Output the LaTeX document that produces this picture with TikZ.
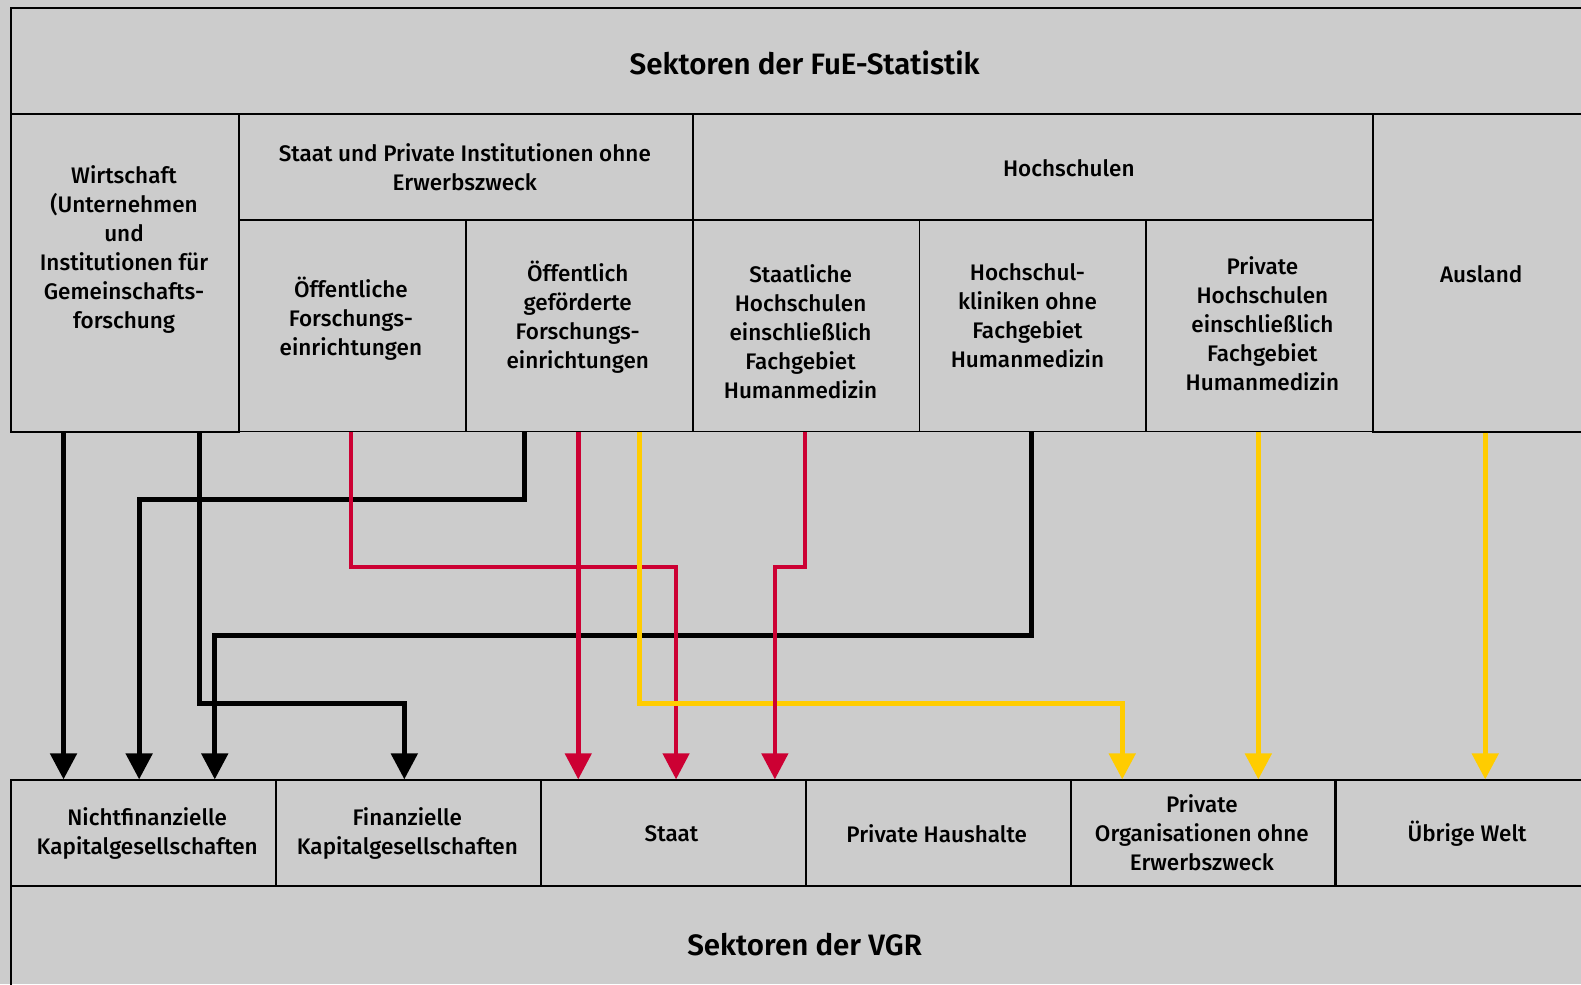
\documentclass[tikz,border=0pt]{standalone}
\usepackage{fontspec}
\setmainfont{Fira Sans}[UprightFont={* Medium},BoldFont={* SemiBold}]
\usetikzlibrary{arrows.meta}
\definecolor{bg}{HTML}{CCCCCC}
\definecolor{rd}{HTML}{CC0033}
\definecolor{yl}{HTML}{FFCC00}
\begin{document}
\begin{tikzpicture}[x=1.0083pt,y=-1.0083pt,
  box/.style={draw=black,line width=1.7pt,rectangle,inner sep=0pt,anchor=north west},
  lbl/.style={inner sep=0pt,font=\fontsize{22.5}{29}\selectfont,align=center},
  big/.style={inner sep=0pt,font=\fontsize{29.5}{34}\selectfont\bfseries},
  conn/.style={line join=miter,-{Triangle[length=26pt,width=26pt]}},
  blk/.style={conn,draw=black,line width=5pt},
  red/.style={conn,draw=rd,line width=4.5pt},
  yel/.style={conn,draw=yl,line width=5pt}]
\fill[bg] (0,0) rectangle (1568,976);
\useasboundingbox (0,0) rectangle (1568,976);
% top boxes
\node[box,minimum width=1590pt,minimum height=106pt] (top) at (10,7) {};
\node[box,minimum width=228pt,minimum height=318pt] (wirt) at (10,112) {};
\node[box,minimum width=454pt,minimum height=106pt] (stH) at (236,112) {};
\node[box,minimum width=681pt,minimum height=106pt] (hsH) at (686,112) {};
\node[box,minimum width=250pt,minimum height=318pt] (ausl) at (1361,112) {};
\node[box,minimum width=227pt,minimum height=212pt] (oef) at (236,217) {};
\node[box,minimum width=227pt,minimum height=212pt] (oefg) at (461,217) {};
\node[box,minimum width=227pt,minimum height=212pt] (sth) at (686,217) {};
\node[box,minimum width=227pt,minimum height=212pt] (hkl) at (911,217) {};
\node[box,minimum width=227pt,minimum height=212pt] (ph) at (1136,217) {};
% bottom boxes
\node[box,minimum width=265pt,minimum height=106pt] (nkg) at (10,773) {};
\node[box,minimum width=265pt,minimum height=106pt] (fkg) at (273,773) {};
\node[box,minimum width=265pt,minimum height=106pt] (staat) at (536,773) {};
\node[box,minimum width=265pt,minimum height=106pt] (phh) at (798,773) {};
\node[box,minimum width=265pt,minimum height=106pt] (poe) at (1061,773) {};
\node[box,minimum width=290pt,minimum height=106pt] (uw) at (1323,773) {};
\node[box,minimum width=1590pt,minimum height=130pt] (vgr) at (10,878) {};
% texts
\node[big] (topT) at (798,62) {Sektoren der FuE-Statistik};
\node[lbl] (wirtT) at (123,247) {Wirtschaft\\(Unternehmen\\und\\Institutionen für\\Gemeinschafts-\\forschung};
\node[lbl] (stHT) at (461,166) {Staat und Private Institutionen ohne\\Erwerbszweck};
\node[lbl] (hsT) at (1060,167) {Hochschulen};
\node[lbl] (auslT) at (1469,272) {Ausland};
\node[lbl] (oefT) at (348,316) {Öffentliche\\Forschungs-\\einrichtungen};
\node[lbl] (oefgT) at (573,315) {Öffentlich\\geförderte\\Forschungs-\\einrichtungen};
\node[lbl] (sthT) at (794,328.5) {Staatliche\\Hochschulen\\einschließlich\\Fachgebiet\\Humanmedizin};
\node[lbl] (hklT) at (1019,313) {Hochschul-\\kliniken ohne\\Fachgebiet\\Humanmedizin};
\node[lbl] (phT) at (1252,321) {Private\\Hochschulen\\einschließlich\\Fachgebiet\\Humanmedizin};
\node[lbl] (nkgT) at (146,826.5) {Nichtfinanzielle\\Kapitalgesellschaften};
\node[lbl] (fkgT) at (404,826.5) {Finanzielle\\Kapitalgesellschaften};
\node[lbl] (staatT) at (666,827) {Staat};
\node[lbl] (phhT) at (929,827) {Private Haushalte};
\node[lbl] (poeT) at (1192,826) {Private\\Organisationen ohne\\Erwerbszweck};
\node[lbl] (uwT) at (1455,827) {Übrige Welt};
\node[big] (vgrT) at (798,937) {Sektoren der VGR};
% connectors
\draw[blk] (wirt.south -| 63,0) -- (nkg.north -| 63,0);
\draw[blk] (oefg.south -| 520,0) |- (138,495) -- (nkg.north -| 138,0);
\draw[blk] (wirt.south -| 198,0) |- (401,698) -- (fkg.north -| 401,0);
\draw[blk] (hkl.south -| 1023,0) |- (213,630) -- (nkg.north -| 213,0);
\draw[red] (oef.south -| 348,0) |- (670.5,562.5) -- (staat.north -| 670.5,0);
\draw[red] (oefg.south -| 573.5,0) -- (staat.north -| 573.5,0);
\draw[yel] (oefg.south -| 634,0) |- (1113,698) -- (poe.north -| 1113,0);
\draw[red] (sth.south -| 798.5,0) |- (768.5,562.5) -- (staat.north -| 768.5,0);
\draw[yel] (ph.south -| 1248,0) -- (poe.north -| 1248,0);
\draw[yel] (ausl.south -| 1473,0) -- (uw.north -| 1473,0);
\end{tikzpicture}
\end{document}
